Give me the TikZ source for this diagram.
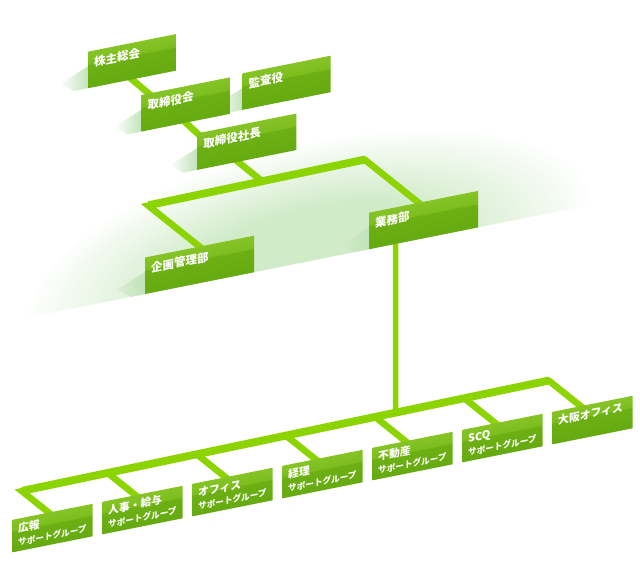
\documentclass[tikz,border=0pt]{standalone}
\usepackage{fontspec}
\newfontfamily\jpfont{Noto Sans CJK JP}
\usetikzlibrary{calc,positioning,backgrounds}

\definecolor{linegreen}{RGB}{140,212,0}
\definecolor{boxdark}{RGB}{101,170,16}
\definecolor{boxmid}{RGB}{108,176,20}
\definecolor{boxlight}{RGB}{124,189,30}
\definecolor{boxtop}{RGB}{134,196,38}
\definecolor{bandgreen}{RGB}{208,235,200}
\definecolor{shadowgreen}{RGB}{194,227,186}

\pgfdeclareverticalshading{boxgloss}{100bp}{color(0bp)=(boxdark); color(25bp)=(boxdark); color(57bp)=(boxmid); color(58bp)=(boxlight); color(75bp)=(boxtop); color(100bp)=(boxtop)}
\pgfdeclareradialshading{bandglow}{\pgfpoint{0bp}{0bp}}{color(0bp)=(bandgreen); color(11bp)=(bandgreen); color(25bp)=(white); color(50bp)=(white)}

\newcommand{\toplabel}[2]{\parbox[c][36.5pt][t]{#1}{\fontsize{11.5}{14}\selectfont\hspace*{6pt}\rule{0pt}{16pt}#2}}
\newcommand{\lowlabel}[2][サポートグループ]{\parbox[c][32.5pt][t]{80pt}{\fontsize{10.8}{13.5}\selectfont\hspace*{5.5pt}\rule{0pt}{13.8pt}#2\par\fontsize{8.6}{13.3}\selectfont\hspace*{5.5pt}#1}}
\newcommand{\boxshadow}[2][white]{\shade[left color=#1,right color=shadowgreen] ($(#2.north west)!0.4!(#2.south west)$) -- (#2.south west) -- ($(#2.south west)+(-14,0)$) -- ($(#2.north west)!0.4!(#2.south west)+(-28,12)$) -- cycle;}

\begin{document}
\begin{tikzpicture}[x=1pt,y=-1pt,
  box node/.style={shade,shading=boxgloss,inner sep=0pt,outer sep=0pt,text=white,font=\jpfont\bfseries,anchor=north west},
  link/.style={draw=linegreen,line width=6pt,line join=miter},
  bar link/.style={draw=linegreen,line width=8pt},
  stem link/.style={draw=linegreen,line width=5.5pt}]
\useasboundingbox (0,0) rectangle (640,578);

\begin{scope}[transform canvas={yslant=0.2}]
\node[box node] (kabu) at (88,69.3) {\toplabel{88pt}{株主総会}};
\node[box node] (kansa) at (242.7,121.8) {\toplabel{88pt}{監査役}};
\node[box node] (tori) at (141.7,123.3) {\toplabel{88pt}{取締役会}};
\node[box node] (shacho) at (197.3,172.8) {\toplabel{99pt}{取締役社長}};
\node[box node] (kikaku) at (145,286.5) {\toplabel{109pt}{企画管理部}};
\node[box node] (gyomu) at (369,286.5) {\toplabel{109pt}{業務部}};

\node[box node] (kouhou) at (12.7,522.3) {\lowlabel{広報}};
\node[box node,right=10pt of kouhou] (jinji) {\lowlabel{人事・給与}};
\node[box node,right=10pt of jinji] (office) {\lowlabel{オフィス}};
\node[box node,right=10pt of office] (keiri) {\lowlabel{経理}};
\node[box node,right=10pt of keiri] (fudosan) {\lowlabel{不動産}};
\node[box node,right=10pt of fudosan] (scq) {\lowlabel{SCQ}};
\node[box node,right=10pt of scq] (osaka) {\lowlabel[]{大阪オフィス}};
\end{scope}

\begin{scope}[on background layer]
\begin{scope}[transform canvas={yslant=0.2}]
% floor band: soft glow cut off at the floor line
\begin{scope}
\clip (-60,120) rectangle (700,323);
\shade[shading=bandglow] (310,323) ellipse [x radius=285,y radius=120];
\end{scope}

\boxshadow{kabu}
\boxshadow{kansa}
\boxshadow{tori}
\boxshadow{shacho}
\boxshadow[bandgreen!80!white]{kikaku}
\boxshadow[bandgreen]{gyomu}

% upper tree
\coordinate (tori in) at ($(tori.north west)!0.08!(tori.north east)$);
\coordinate (gyomu top) at ($(gyomu.north west)!0.455!(gyomu.north east)$);
\coordinate (lc) at ($(kikaku.north)+(-51.5,-51.5)$);
\coordinate (rc) at ($(gyomu top)+(-54,-54)$);
\coordinate (j0) at ($(lc)!0.527!(rc)$);
\coordinate (shacho foot) at ($(shacho.south west)!0.41!(shacho.south east)$);

\draw[link,shorten <=-5pt,shorten >=-6pt] (kabu.south) -- (tori in);
\draw[link,shorten <=-5pt,shorten >=-6pt] (tori.south) -- (shacho.north west);
\draw[link,shorten <=-5pt] (shacho foot) -- (j0);
\draw[link,shorten <=-5pt,shorten >=-5pt] (kikaku.north) -- (lc) -- (rc) -- (gyomu top);
\draw[bar link] (lc) -- (rc);

% lower tree
\coordinate (kouhou top) at ($(kouhou.north west)!0.45!(kouhou.north east)$);
\coordinate (jinji top) at ($(jinji.north west)!0.41!(jinji.north east)$);
\coordinate (office top) at ($(office.north west)!0.41!(office.north east)$);
\coordinate (keiri top) at ($(keiri.north west)!0.41!(keiri.north east)$);
\coordinate (fudosan top) at ($(fudosan.north west)!0.41!(fudosan.north east)$);
\coordinate (scq top) at ($(scq.north west)!0.41!(scq.north east)$);
\coordinate (osaka top) at ($(osaka.north west)!0.35!(osaka.north east)$);
\coordinate (kouhou fork) at ($(kouhou top)+(-27,-27)$);
\coordinate (jinji fork) at ($(jinji top)+(-28,-28)$);
\coordinate (office fork) at ($(office top)+(-29,-29)$);
\coordinate (keiri fork) at ($(keiri top)+(-29.8,-29.8)$);
\coordinate (fudosan fork) at ($(fudosan top)+(-30.6,-30.6)$);
\coordinate (scq fork) at ($(scq top)+(-31.4,-31.4)$);
\coordinate (osaka fork) at ($(osaka top)+(-32,-32)$);

\draw[link,shorten <=-5pt,shorten >=-5pt] (kouhou top) -- (kouhou fork) -- (osaka fork) -- (osaka top);
\draw[bar link] (kouhou fork) -- (osaka fork);
\draw[link,shorten >=-5pt] (jinji fork) -- (jinji top);
\draw[link,shorten >=-5pt] (office fork) -- (office top);
\draw[link,shorten >=-5pt] (keiri fork) -- (keiri top);
\draw[link,shorten >=-5pt] (fudosan fork) -- (fudosan top);
\draw[link,shorten >=-5pt] (scq fork) -- (scq top);

\coordinate (stem) at ($(gyomu.south west)!0.245!(gyomu.south east)$);
\draw[stem link] (stem) -- (stem |- fudosan fork);
\end{scope}
\end{scope}
\end{tikzpicture}
\end{document}
